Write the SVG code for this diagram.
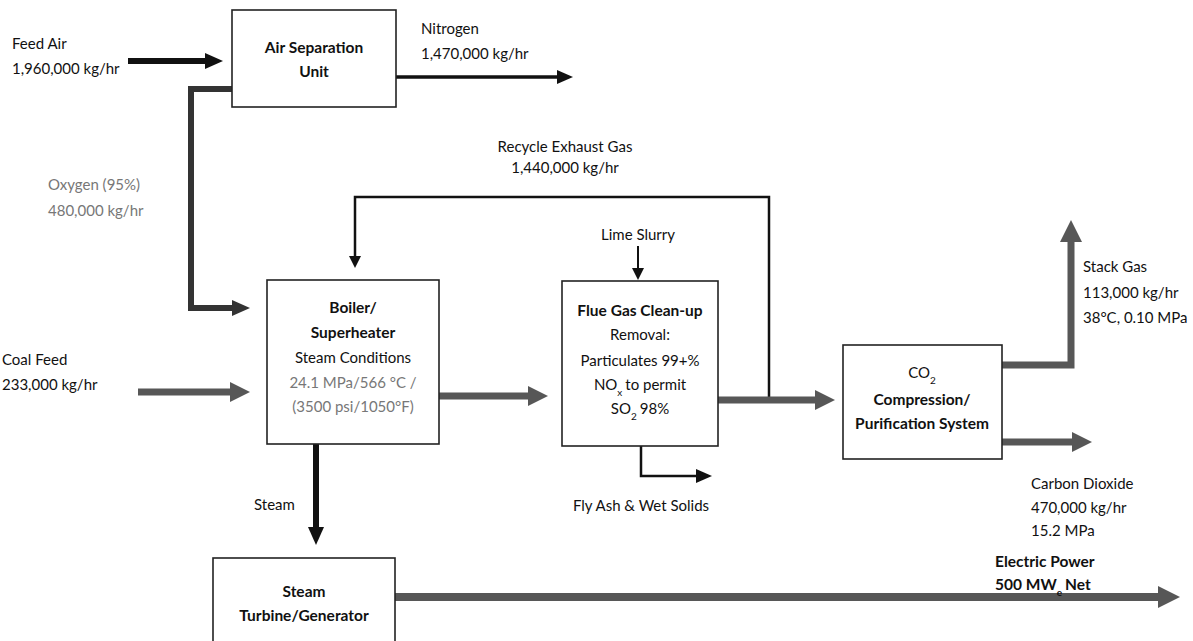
<svg xmlns="http://www.w3.org/2000/svg" width="1193" height="641" viewBox="0 0 1193 641">
<style>
text{font-family:Lato,"Open Sans","Liberation Sans",sans-serif;font-size:15px;fill:#111}
.b{font-weight:bold;font-size:15.5px}
.g{fill:#777}
.m{text-anchor:middle}
.box{fill:#fff;stroke:#222;stroke-width:1.6}
.c{fill:none;stroke-linejoin:miter;stroke-linecap:butt}
.k{stroke:#111}
.gr{stroke:#575757}
.dk{stroke:#333}
.s{font-size:10px}
</style>
<defs>
<marker id="mbl" markerUnits="userSpaceOnUse" markerWidth="18" markerHeight="16" refX="0" refY="8" orient="auto"><path d="M0,0 L18,8 L0,16 z" fill="#111"/></marker>
<marker id="mbm" markerUnits="userSpaceOnUse" markerWidth="16" markerHeight="14" refX="0" refY="7" orient="auto"><path d="M0,0 L16,7 L0,14 z" fill="#111"/></marker>
<marker id="mbs" markerUnits="userSpaceOnUse" markerWidth="12" markerHeight="12" refX="0" refY="6" orient="auto"><path d="M0,0 L12,6 L0,12 z" fill="#111"/></marker>
<marker id="mgl" markerUnits="userSpaceOnUse" markerWidth="20" markerHeight="20" refX="0" refY="10" orient="auto"><path d="M0,0 L20,10 L0,20 z" fill="#575757"/></marker>
<marker id="mgx" markerUnits="userSpaceOnUse" markerWidth="22" markerHeight="22" refX="0" refY="11" orient="auto"><path d="M0,0 L22,11 L0,22 z" fill="#575757"/></marker>
<marker id="mdl" markerUnits="userSpaceOnUse" markerWidth="18" markerHeight="16" refX="0" refY="8" orient="auto"><path d="M0,0 L18,8 L0,16 z" fill="#333"/></marker>
</defs>
<rect width="1193" height="641" fill="#fff"/>

<g id="connectors">
<path class="c k" stroke-width="6" d="M128,61 H205" marker-end="url(#mbl)"/>
<path class="c k" stroke-width="3.5" d="M396,77 H557" marker-end="url(#mbm)"/>
<path class="c dk" stroke-width="6" d="M232,89 H191 V308 H232" marker-end="url(#mdl)"/>
<path class="c k" stroke-width="2.5" d="M769,400 V197 H355 V256" marker-end="url(#mbs)"/>
<path class="c k" stroke-width="2" d="M638,246 V268" marker-end="url(#mbs)"/>
<path class="c gr" stroke-width="7" d="M138,392 H230" marker-end="url(#mgl)"/>
<path class="c gr" stroke-width="7" d="M439,396 H528" marker-end="url(#mgl)"/>
<path class="c gr" stroke-width="7" d="M718,400 H815" marker-end="url(#mgl)"/>
<path class="c gr" stroke-width="7" d="M1002,365 H1071 V242" marker-end="url(#mgx)"/>
<path class="c gr" stroke-width="7" d="M1002,442 H1072" marker-end="url(#mgl)"/>
<path class="c k" stroke-width="6" d="M316,444 V527" marker-end="url(#mbl)"/>
<path class="c k" stroke-width="2.5" d="M641,446 V476 H696" marker-end="url(#mbm)"/>
<path class="c gr" stroke-width="8" d="M395,597 H1158" marker-end="url(#mgx)"/>
</g>

<g id="labels">
<text x="12" y="49">Feed Air</text>
<text x="12" y="74">1,960,000 kg/hr</text>
<text x="421" y="34">Nitrogen</text>
<text x="421" y="59">1,470,000 kg/hr</text>
<text class="g" x="48" y="190">Oxygen (95%)</text>
<text class="g" x="48" y="216">480,000 kg/hr</text>
<text class="m" x="565" y="152">Recycle Exhaust Gas</text>
<text class="m" x="565" y="173">1,440,000 kg/hr</text>
<text class="m" x="638" y="240">Lime Slurry</text>
<text x="2" y="365">Coal Feed</text>
<text x="2" y="390">233,000 kg/hr</text>
<text x="1083" y="272">Stack Gas</text>
<text x="1083" y="298">113,000 kg/hr</text>
<text x="1083" y="323">38°C, 0.10 MPa</text>
<text x="1031" y="489">Carbon Dioxide</text>
<text x="1031" y="513">470,000 kg/hr</text>
<text x="1031" y="536">15.2 MPa</text>
<text x="254" y="510">Steam</text>
<text class="m" x="641" y="511">Fly Ash &amp; Wet Solids</text>
<text class="b" x="995" y="567">Electric Power</text>
<text class="b" x="995" y="590">500 MW<tspan class="s" baseline-shift="sub">e</tspan><tspan dx="3" baseline-shift="0">Net</tspan></text>
</g>

<g id="asu">
<rect class="box" x="232" y="10" width="164" height="97"/>
<text class="b m" x="314" y="53">Air Separation</text>
<text class="b m" x="314" y="77">Unit</text>
</g>

<g id="boiler">
<rect class="box" x="267" y="280" width="172" height="164"/>
<text class="b m" x="353" y="313">Boiler/</text>
<text class="b m" x="353" y="338">Superheater</text>
<text class="m" x="353" y="363">Steam Conditions</text>
<text class="m g" x="353" y="388">24.1 MPa/566 °C /</text>
<text class="m g" x="353" y="412">(3500 psi/1050°F)</text>
</g>

<g id="flue">
<rect class="box" x="562" y="281" width="156" height="165"/>
<text class="b m" x="640" y="316">Flue Gas Clean-up</text>
<text class="m" x="640" y="340">Removal:</text>
<text class="m" x="640" y="366">Particulates 99+%</text>
<text class="m" x="640" y="390">NO<tspan class="s" baseline-shift="sub">x</tspan><tspan dx="3" baseline-shift="0">to permit</tspan></text>
<text class="m" x="640" y="414">SO<tspan class="s" baseline-shift="sub">2</tspan><tspan dx="3" baseline-shift="0">98%</tspan></text>
</g>

<g id="co2">
<rect class="box" x="843" y="345" width="159" height="114"/>
<text class="m" x="922" y="378">CO<tspan class="s" baseline-shift="sub">2</tspan></text>
<text class="b m" x="922" y="405">Compression/</text>
<text class="b m" x="922" y="429">Purification System</text>
</g>

<g id="turbine">
<rect class="box" x="213" y="558" width="182" height="92"/>
<text class="b m" x="304" y="597">Steam</text>
<text class="b m" x="304" y="621">Turbine/Generator</text>
</g>
</svg>
